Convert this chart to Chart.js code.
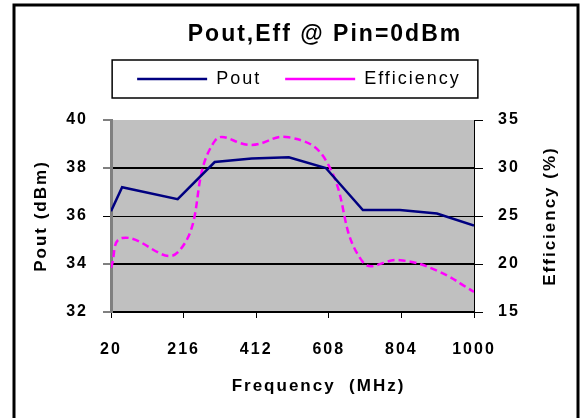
<!DOCTYPE html>
<html>
<head>
<meta charset="utf-8">
<script src="https://cdn.jsdelivr.net/npm/chart.js@4.4.1/dist/chart.umd.min.js"></script>
<style>
  html, body { margin: 0; padding: 0; background: #fff; }
  canvas { display: block; }
</style>
</head>
<body>
<canvas id="chart" width="582" height="418"></canvas>
<script>
// measured points (MHz)
const freqs = [20, 50, 200, 300, 400, 500, 600, 700, 800, 900, 1000];
const pout = [36.2, 37.2, 36.7, 38.25, 38.4, 38.45, 38.0, 36.25, 36.25, 36.1, 35.6];
const efficiency = [19.6, 22.7, 21.2, 32.8, 32.4, 33.2, 30.8, 20.2, 20.4, 19.3, 17.1];

// axis ticks, same as the excel sheet
const freqTicks = [20, 216, 412, 608, 804, 1000];
const poutTicks = [32, 34, 36, 38, 40];
const effTicks = [15, 20, 25, 30, 35];

const FONT = '"Liberation Sans", Arial, sans-serif';
Chart.defaults.font.family = FONT;
Chart.defaults.font.weight = "bold";
Chart.defaults.color = "#000";

// excel look: gray plot area, outer frame, boxed legend, titles
const excelFrame = {
  id: "excelFrame",
  beforeUpdate(chart) {
    // leave some room between legend and plot area
    const legend = chart.legend;
    if (legend && !legend._gapPatched) {
      const fit = legend.fit;
      legend.fit = function () {
        fit.call(this);
        this.height += 22;
      };
      legend._gapPatched = true;
    }
  },
  beforeLayout(chart) {
    chart.ctx.letterSpacing = "2px";
  },
  beforeDraw(chart) {
    const { ctx, chartArea: a, width, height } = chart;
    ctx.save();
    ctx.fillStyle = "#fff";
    ctx.fillRect(0, 0, width, height);
    ctx.fillStyle = "#c0c0c0";
    ctx.fillRect(a.left, a.top, a.right - a.left, a.bottom - a.top);
    ctx.restore();
    ctx.letterSpacing = "2px";
  },
  afterDraw(chart) {
    const { ctx, chartArea: a, legend } = chart;
    ctx.save();
    ctx.strokeStyle = "#000";
    ctx.lineWidth = 3;
    ctx.strokeRect(14, 5, 564, 420);

    // box round the legend
    const hb = legend.legendHitBoxes;
    const last = hb[hb.length - 1];
    const l = hb[0].left - 25;
    const r = last.left + last.width + 17;
    const t = hb[0].top - 10;
    const b = hb[0].top + hb[0].height + 10;
    ctx.lineWidth = 1.5;
    ctx.strokeRect(l, t, r - l, b - t);

    ctx.fillStyle = "#000";
    ctx.textAlign = "center";
    ctx.textBaseline = "middle";
    ctx.letterSpacing = "2px";
    ctx.font = "bold 23px " + FONT;
    ctx.fillText("Pout,Eff @ Pin=0dBm", 325, 35);

    // x title sits a bit right of center, right title reads upwards
    ctx.font = "bold 17px " + FONT;
    ctx.fillText("Frequency  (MHz)", (a.left + a.right) / 2 + 26, 386);
    ctx.translate(550, (a.top + a.bottom) / 2);
    ctx.rotate(-Math.PI / 2);
    ctx.fillText("Efficiency (%)", 0, 0);
    ctx.restore();
  },
};

const toPoints = (ys) => freqs.map((f, i) => ({ x: f, y: ys[i] }));
const plain = (v) => String(v);

new Chart(document.getElementById("chart"), {
  type: "line",
  data: {
    datasets: [
      {
        label: "Pout",
        data: toPoints(pout),
        borderColor: "#000080",
        backgroundColor: "#000080",
        borderWidth: 2.5,
        pointRadius: 0,
        tension: 0,
        yAxisID: "y",
      },
      {
        label: "Efficiency",
        data: toPoints(efficiency),
        borderColor: "#ff00ff",
        backgroundColor: "#ff00ff",
        borderWidth: 2.5,
        borderDash: [7, 4],
        pointRadius: 0,
        tension: 0.45,
        yAxisID: "y1",
      },
    ],
  },
  options: {
    responsive: false,
    animation: false,
    layout: { padding: { left: 16, top: 46, right: 0, bottom: 0 } },
    plugins: {
      legend: {
        position: "top",
        labels: {
          usePointStyle: true,
          pointStyle: "line",
          pointStyleWidth: 70,
          padding: 24,
          color: "#000",
          font: { size: 18, weight: "normal" },
        },
      },
      tooltip: { enabled: false },
    },
    scales: {
      x: {
        type: "linear",
        min: 20,
        max: 1000,
        afterBuildTicks: (s) => { s.ticks = freqTicks.map((v) => ({ value: v })); },
        afterFit: (s) => { s.height = 106; },
        grid: { drawOnChartArea: false, color: "#000", tickLength: 6, tickWidth: 1 },
        border: { color: "#000", width: 1.5 },
        ticks: { padding: 22, font: { size: 16 }, color: "#000", maxRotation: 0, autoSkip: false, callback: plain },
      },
      y: {
        position: "left",
        min: 32,
        max: 40,
        afterBuildTicks: (s) => { s.ticks = poutTicks.map((v) => ({ value: v })); },
        afterFit: (s) => { s.width = 95; },
        grid: {
          color: (c) => (c.tick && c.tick.value === 40 ? "rgba(0,0,0,0)" : "#000"),
          lineWidth: (c) => (c.tick && c.tick.value === 36 ? 1 : 2),
          tickColor: "#000",
          tickLength: 8,
          tickWidth: 1,
        },
        border: { color: "#808080", width: 3 },
        ticks: { padding: 15, font: { size: 16 }, color: "#000", callback: plain },
        title: { display: true, text: "Pout (dBm)", font: { size: 17 }, color: "#000", padding: { top: 15, bottom: 0 } },
      },
      y1: {
        position: "right",
        min: 15,
        max: 35,
        afterBuildTicks: (s) => { s.ticks = effTicks.map((v) => ({ value: v })); },
        afterFit: (s) => { s.width = 108; },
        grid: { drawOnChartArea: false, color: "#000", tickLength: 9, tickWidth: 1 },
        border: { color: "#000", width: 1 },
        ticks: { padding: 15, font: { size: 16 }, color: "#000", callback: plain },
      },
    },
  },
  plugins: [excelFrame],
});
</script>
</body>
</html>
